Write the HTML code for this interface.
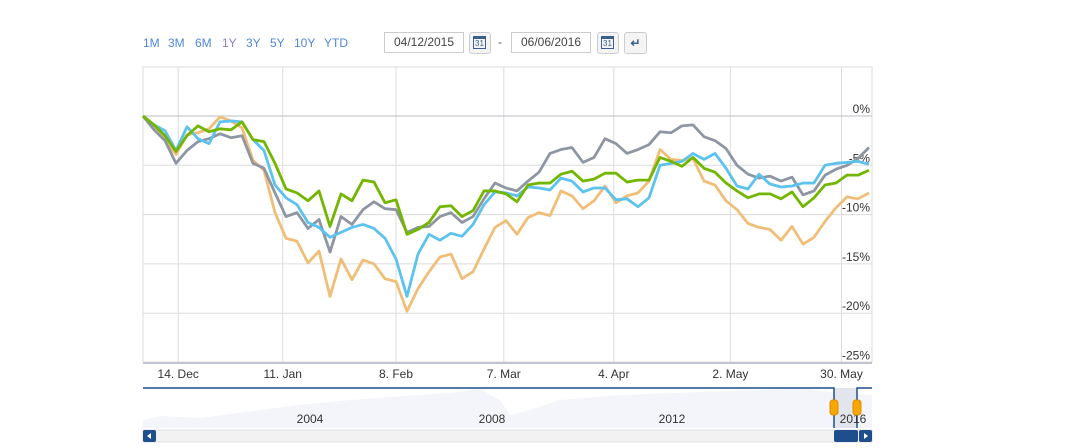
<!DOCTYPE html>
<html><head><meta charset="utf-8"><style>
body{margin:0;background:#fff;font-family:"Liberation Sans",sans-serif;}
#wrap{position:relative;width:1078px;height:448px;overflow:hidden;}
.rb{position:absolute;top:36px;font-size:12px;color:#4f87d9;cursor:pointer;}
.inp{position:absolute;top:32px;height:19px;width:78px;border:1px solid #ccc;font-size:12px;color:#444;line-height:19px;text-align:center;}
.cal{position:absolute;top:32px;width:20px;height:20px;border:1px solid #ccc;border-radius:3px;background:#f4f4f4;}
.cal div{position:absolute;left:3px;top:3px;width:13px;height:13px;border:1px solid #3a5f8f;border-top:3px solid #3a5f8f;box-sizing:border-box;font-size:8px;line-height:9px;text-align:center;color:#3a5f8f;}
</style></head><body>
<div id="wrap">
<span class="rb" style="left:143px">1M</span>
<span class="rb" style="left:168px">3M</span>
<span class="rb" style="left:195px">6M</span>
<span class="rb" style="left:222px;color:#8d7fc9">1Y</span>
<span class="rb" style="left:246px">3Y</span>
<span class="rb" style="left:270px">5Y</span>
<span class="rb" style="left:294px">10Y</span>
<span class="rb" style="left:324px">YTD</span>
<div class="inp" style="left:384px">04/12/2015</div>
<div class="cal" style="left:469px"><div>31</div></div>
<span style="position:absolute;left:498px;top:35px;font-size:12px;color:#555">-</span>
<div class="inp" style="left:511px">06/06/2016</div>
<div class="cal" style="left:597px"><div>31</div></div>
<div class="cal" style="left:624px;width:21px;font-size:12px;text-align:center;line-height:20px;color:#3a5f8f;font-weight:bold">↵</div>
<svg id="svg" width="1078" height="448" style="position:absolute;left:0;top:0"></svg>
</div>
<script>
const xLabels=["14. Dec","11. Jan","8. Feb","7. Mar","4. Apr","2. May","30. May"];
const xTickIdx=[3.2,12.7,23.0,32.8,42.8,53.4,63.5];
const yTicks=[0,-5,-10,-15,-20,-25];
const navYears=["2004","2008","2012","2016"];
const green=[0,-0.9,-2,-3.6,-2,-1,-1.6,-1.3,-1.4,-0.6,-2.4,-2.6,-4.8,-7.4,-7.8,-8.6,-7.6,-11.2,-7.9,-8.6,-6.5,-6.7,-8.8,-8.5,-12,-11.5,-10.8,-9.2,-9.1,-10.2,-9.6,-7.6,-7.6,-7.9,-8.7,-7,-6.8,-6.8,-5.9,-5.6,-6.6,-6.4,-5.8,-5.8,-6.7,-6.5,-6.5,-4.2,-4.6,-5.1,-4.2,-5.3,-5.7,-6.8,-7.6,-8.3,-7.9,-7.9,-8.4,-7.7,-9.2,-8.3,-7,-6.8,-6,-6,-5.5];
const gray=[0,-1.4,-2.5,-4.8,-3.5,-2.6,-2.3,-1.8,-2.2,-2,-4.8,-5.3,-7.8,-10.2,-9.8,-11.4,-10.5,-13.8,-10.2,-11,-9.5,-8.7,-9.4,-9.5,-11.8,-11.3,-11.2,-10.2,-9.8,-10.8,-10.2,-8.4,-6.8,-7.3,-7.6,-6.6,-5.7,-3.8,-3.4,-3.2,-4.7,-4.2,-2.3,-2.8,-3.8,-3.4,-2.9,-1.6,-1.7,-1,-0.9,-2.1,-2.5,-3.3,-5,-5.9,-6.3,-6.1,-6.6,-6.2,-8,-7.6,-6,-5.4,-5,-4.3,-3.2];
const blue=[0,-0.9,-1.5,-3.5,-1.1,-2.3,-2.8,-0.6,-0.5,-0.6,-2.4,-3.5,-7,-8.3,-9,-10.8,-11.3,-12.3,-11.8,-11.3,-11,-11.4,-12.4,-14.5,-18.3,-14,-12,-12.6,-11.9,-12.2,-11,-9,-7.7,-7.8,-8.1,-7.2,-7.3,-7.5,-6.3,-6.6,-7.7,-7.3,-7.3,-8.5,-8.4,-9.2,-8.3,-5,-4.8,-4.6,-3.8,-4.4,-3.8,-5.3,-7.1,-7.4,-5.9,-6.9,-7.2,-7.1,-6.8,-6.8,-5,-4.8,-4.7,-4.6,-4.9];
const orange=[0,-1.2,-2.4,-3.9,-1.9,-1.7,-1.3,-0.1,-0.5,-1.2,-4.5,-5.5,-9.8,-12.4,-12.7,-14.9,-13.7,-18.3,-14.5,-16.6,-14.6,-15,-16.5,-16.8,-19.8,-17.5,-15.8,-14.3,-14,-16.5,-15.8,-13.5,-11.3,-10.6,-12,-10.3,-9.8,-10.1,-7.6,-8.1,-9.4,-8.6,-7.1,-8.8,-8.1,-7.8,-6.6,-3.4,-4.4,-4.5,-4.3,-6.6,-7,-8.6,-9.5,-10.9,-11.3,-11.5,-12.6,-11.2,-13,-12.3,-10.7,-9.3,-8.2,-8.4,-7.8];

const L=143,R=872,T=67,B=362;
const x=i=>L+i*11;
const y=v=>116-v*9.86;
const svg=document.getElementById('svg');
const NS='http://www.w3.org/2000/svg';
function mk(tag,attrs){const e=document.createElementNS(NS,tag);for(const k in attrs)e.setAttribute(k,attrs[k]);svg.appendChild(e);return e;}

let e=mk('rect',{x:L,y:T,width:R-L,height:B-T,fill:'none',stroke:'#dcdcdc'});


xTickIdx.forEach((t,i)=>{
  const g=mk('line',{x1:x(t),x2:x(t),y1:T,y2:B,stroke:'#dcdcdc'});
  
  
  const tx=mk('text',{x:x(t),y:378,'text-anchor':'middle','font-size':'12',fill:'#333'});
  tx.textContent=xLabels[i];
  
  
});
yTicks.forEach(v=>{
  const g=mk('line',{x1:L,x2:R,y1:y(v),y2:y(v),stroke:v===0?'#b8bcc4':'#dcdcdc'});
  
  
  const tx=mk('text',{x:870,y:y(v)-3,'text-anchor':'end','font-size':'12',fill:'#333'});
  tx.textContent=v+'%';
  
  
});
e=mk('line',{x1:L,x2:R,y1:B+1,y2:B+1,stroke:'#c0c4cc','stroke-width':2});



[[orange,'#f0be78','series-orange'],[gray,'#8e96a3','series-gray'],[blue,'#5cc2ee','series-blue'],[green,'#72b600','series-green']].forEach(([d,c,n])=>{
  const p=mk('path',{d:d.map((v,i)=>(i?'L':'M')+x(i)+','+y(v)).join(''),fill:'none',stroke:c,'stroke-width':2.8,'stroke-linejoin':'round'});
  
  
});

// navigator
e=mk('path',{d:'M143,420 L160,416 L200,418 L260,410 L300,405 L350,400 L420,395 L460,392 L480,388 L490,395 L500,400 L510,415 L530,410 L560,400 L620,395 L700,392 L760,390 L800,388 L830,392 L872,395 L872,428 L143,428Z',fill:'#f4f5fa'});


e=mk('rect',{x:834,y:388,width:23,height:40,fill:'#e3e5ec'});


e=mk('path',{d:'M143,388 L834,388 L834,428 M857,428 L857,388 L872,388',fill:'none',stroke:'#1f4e8c','stroke-width':1.5});


[310,492,672,853].forEach((px,i)=>{
  const tx=mk('text',{x:px,y:423,'text-anchor':'middle','font-size':'12',fill:'#333'});
  tx.textContent=navYears[i];
  
  
});
[830,853].forEach(px=>{
  const h=mk('rect',{x:px,y:400,width:8,height:15,rx:3,fill:'#f7a800',stroke:'#e08a00'});
  
  
});
e=mk('rect',{x:143,y:430,width:729,height:12,fill:'#f2f2f2',stroke:'#ddd'});


e=mk('rect',{x:834,y:430,width:24,height:12,rx:2,fill:'#1f4e8c'});


e=mk('rect',{x:143,y:430,width:13,height:12,rx:2,fill:'#1f4e8c'});


e=mk('rect',{x:859,y:430,width:13,height:12,rx:2,fill:'#1f4e8c'});


mk('path',{d:'M151,433 L147,436 L151,439Z',fill:'#fff'});
mk('path',{d:'M864,433 L868,436 L864,439Z',fill:'#fff'});
</script>
</body></html>
